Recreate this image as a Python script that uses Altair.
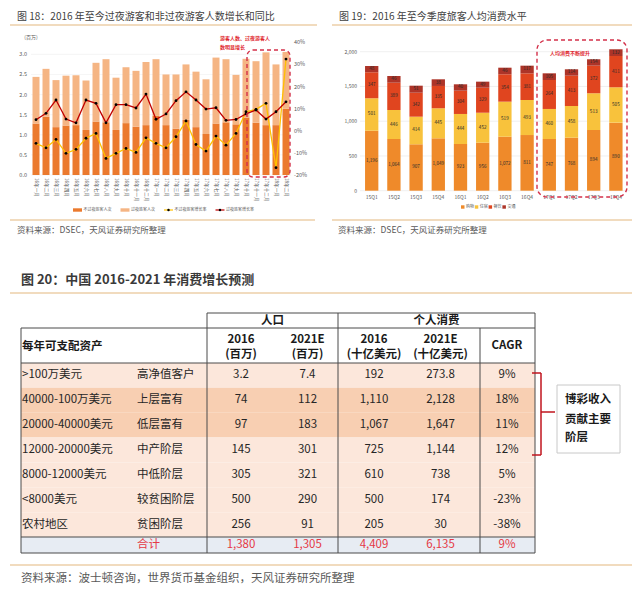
import altair as alt
import pandas as pd

FONT = "Noto Sans CJK SC"
GREY = "#595959"
DARKTXT = "#262626"
TAN = "#EDCFA8"
RED_NOTE = "#E0262E"
RED_BOX = "#D33049"

# ---------------- Figure 18 data ----------------
title18 = "图 18：2016 年至今过夜游客和非过夜游客人数增长和同比"
source18 = "资料来源：DSEC，天风证券研究所整理"
note18 = ["游客人数、过夜游客人", "数明显增长"]
unit18 = "(百万)"
months = ["16年一月", "16年二月", "16年三月", "16年四月", "16年五月", "16年六月",
          "16年七月", "16年八月", "16年九月", "16年十月", "16年十一月", "16年十二月",
          "17年一月", "17年二月", "17年三月", "17年四月", "17年五月", "17年六月",
          "17年七月", "17年八月", "17年九月", "17年十月", "17年十一月", "17年十二月",
          "18年一月", "18年二月"]
nonovernight_visitors = [1.28, 1.45, 1.19, 1.23, 1.24, 1.12, 1.33, 1.31, 1.12, 1.29, 1.20, 1.24,
                         1.47, 1.24, 1.15, 1.37, 1.19, 1.02, 1.28, 1.31, 1.26, 1.43, 1.30, 1.24,
                         1.24, 1.65]
overnight_visitors = [1.16, 1.19, 1.17, 1.24, 1.24, 1.23, 1.46, 1.57, 1.30, 1.39, 1.39, 1.57,
                      1.41, 1.26, 1.35, 1.38, 1.38, 1.36, 1.64, 1.57, 1.23, 1.46, 1.53, 1.81,
                      1.51, 1.41]
nonovernight_growth = [-5.7, -7.7, -3.9, -10.2, -8.4, -3.4, -1.2, -12.5, -10.2, -8.0, -9.8, -3.2,
                       -5.7, -7.7, -2.7, 4.4, -6.2, -9.2, -2.4, -6.5, -1.2, 8.6, 9.7, 12.4,
                       -16.7, 32.4]
overnight_growth = [5.0, 7.9, 13.9, 5.3, 3.6, 13.9, 12.4, 3.6, 11.8, 11.8, 10.3, 16.6,
                    5.2, 7.6, 13.6, 17.6, 13.9, 9.8, 10.4, 4.7, 5.1, 7.6, 9.4, 5.3,
                    8.6, 13.1]
series18 = ["不过夜旅客人次", "过夜旅客人次", "不过夜旅客增长率", "过夜旅客增长率"]
colors18 = ["#EB7A2E", "#F5B584", "#FFC000", "#C00000"]
left_ticks18 = [0.0, 0.5, 1.0, 1.5, 2.0, 2.5, 3.0]
right_ticks18 = [-20, -10, 0, 10, 20, 30, 40]

# ---------------- Figure 19 data ----------------
title19 = "图 19：2016 年至今季度旅客人均消费水平"
source19 = "资料来源：DSEC，天风证券研究所整理"
note19 = "人均消费不断提升"
quarters = ["15Q1", "15Q2", "15Q3", "15Q4", "16Q1", "16Q2", "16Q3", "16Q4",
            "17Q1", "17Q2", "17Q3", "17Q4"]
series19 = ["购物", "住宿", "餐饮", "交通"]
colors19 = ["#EF8A2A", "#F8C23C", "#E0451F", "#AD3428"]
shopping = [863, 744, 668, 754, 672, 691, 777, 801, 744, 763, 873, 979]
lodging = [467, 417, 397, 432, 432, 431, 504, 504, 432, 456, 529, 509]
dining = [374, 393, 345, 321, 335, 360, 394, 384, 417, 436, 397, 450]
transport = [90, 96, 101, 96, 92, 87, 95, 110, 96, 92, 92, 97]
shopping_labels = ["1,196", "1,064", "907", "1,049", "923", "956", "1,072", "811", "747", "768", "894", "890"]
lodging_labels = ["501", "446", "414", "445", "444", "452", "519", "493", "460", "458", "513", "505"]
dining_labels = ["347", "389", "342", "335", "304", "329", "354", "381", "264", "413", "372", "411"]
transport_labels = ["48", "46", "51", "38", "40", "49", "46", "117", "105", "114", "154", "132"]
ticks19 = [0, 500, 1000, 1500, 2000]

# ---------------- Figure 20 (table) data ----------------
title20 = "图 20：中国 2016-2021 年消费增长预测"
source20 = "资料来源：波士顿咨询，世界货币基金组织，天风证券研究所整理"
row_header = "每年可支配资产"
group_headers = ["人口", "个人消费"]
col_keys = ["pop2016", "pop2021", "spend2016", "spend2021", "cagr"]
col_head1 = ["2016", "2021E", "2016", "2021E"]
col_head2 = ["(百万)", "(百万)", "(十亿美元)", "(十亿美元)"]
cagr_head = "CAGR"
income_bands = [">100万美元", "40000-100万美元", "20000-40000美元", "12000-20000美元",
                "8000-12000美元", "<8000美元", "农村地区"]
classes = ["高净值客户", "上层富有", "低层富有", "中产阶层", "中低阶层", "较贫困阶层", "贫困阶层"]
pop_2016 = [3.2, 74, 97, 145, 305, 500, 256]
pop_2021 = [7.4, 112, 183, 301, 321, 290, 91]
spend_2016 = [192, 1110, 1067, 725, 610, 500, 205]
spend_2021 = [273.8, 2128, 1647, 1144, 738, 174, 30]
cagr = [9, 18, 11, 12, 5, -23, -38]
total_label = "合计"
total_values = [1380, 1305, 4409, 6135]
total_cagr = 9
highlight_bands = ["40000-100万美元", "20000-40000美元"]
callout = ["博彩收入", "贡献主要", "阶层"]


def fmt(v):
    if isinstance(v, float) and not float(v).is_integer():
        return f"{v:,.1f}"
    return f"{int(v):,}"


one = pd.DataFrame({"k": [0]})


def T(text, x, y, size, color=GREY, align="left", weight="normal"):
    return alt.Chart(one).mark_text(text=text, font=FONT, fontSize=size, color=color,
                                    align=align, baseline="middle", fontWeight=weight).encode(
        x=alt.value(x), y=alt.value(y))


def HR(x1, x2, y, color, w=1.0):
    return alt.Chart(one).mark_rule(color=color, strokeWidth=w).encode(
        x=alt.value(x1), x2=alt.value(x2), y=alt.value(y))


def VR(x, y1, y2, color, w=1.0):
    return alt.Chart(one).mark_rule(color=color, strokeWidth=w).encode(
        x=alt.value(x), y=alt.value(y1), y2=alt.value(y2))


def BOX(x1, x2, y1, y2, fill, stroke=None, w=1.0, dash=None, radius=0, fill_opacity=1.0):
    kw = dict(fill=fill, fillOpacity=fill_opacity, cornerRadius=radius)
    if stroke:
        kw.update(stroke=stroke, strokeWidth=w)
    if dash:
        kw.update(strokeDash=dash)
    return alt.Chart(one).mark_rect(**kw).encode(
        x=alt.value(x1), x2=alt.value(x2), y=alt.value(y1), y2=alt.value(y2))


def DOT(x, y, size=7, color="black"):
    return alt.Chart(one).mark_circle(size=size, color=color, opacity=1).encode(
        x=alt.value(x), y=alt.value(y))


deco = []

# ================= Figure 18 =================
df18 = pd.DataFrame({"month": months, "nonov": nonovernight_visitors, "ov": overnight_visitors,
                     "g_non": nonovernight_growth, "g_ov": overnight_growth})
df18["total"] = df18["nonov"] + df18["ov"]
dfl18 = pd.DataFrame({"t": left_ticks18, "lbl": [f"{t:.1f}" for t in left_ticks18]})
dfr18 = pd.DataFrame({"t": right_ticks18, "lbl": [f"{t}%" for t in right_ticks18]})

x18 = alt.X("month:N", sort=months, axis=None,
            scale=alt.Scale(domain=months, range=[23, 283], paddingInner=0.3, paddingOuter=0.15))
yL = alt.Scale(domain=[0, 3.3], range=[167, 34.3], nice=False, zero=False)
yR = alt.Scale(domain=[-20, 40], range=[167, 34.3], nice=False, zero=False)

grid18 = alt.Chart(dfl18).mark_rule(color="#EEEEEE", strokeWidth=0.6).encode(
    y=alt.Y("t:Q", scale=yL, axis=None), x=alt.value(23), x2=alt.value(283))
bar_non = alt.Chart(df18).mark_bar(color=colors18[0]).encode(
    x=x18, y=alt.Y("nonov:Q", scale=yL, axis=None, stack=None))
bar_ov = alt.Chart(df18).mark_bar(color=colors18[1]).encode(
    x=x18, y=alt.Y("total:Q", scale=yL, axis=None, stack=None), y2="nonov:Q")
lab_l18 = alt.Chart(dfl18).mark_text(font=FONT, fontSize=5.5, color=GREY, align="right",
                                     baseline="middle").encode(
    y=alt.Y("t:Q", scale=yL, axis=None), x=alt.value(19), text="lbl:N")
lab_x18 = alt.Chart(df18).mark_text(font=FONT, fontSize=4.6, color=GREY, align="left",
                                    baseline="middle", angle=90).encode(
    x=x18, y=alt.value(170), text="month:N")
left18 = alt.layer(grid18, bar_non, bar_ov, lab_l18, lab_x18)

line_non = alt.Chart(df18).mark_line(color=colors18[2], strokeWidth=1.3).encode(
    x=x18, y=alt.Y("g_non:Q", scale=yR, axis=None))
pts_non = alt.Chart(df18).mark_circle(color="black", size=8, opacity=1).encode(
    x=x18, y=alt.Y("g_non:Q", scale=yR, axis=None))
line_ov = alt.Chart(df18).mark_line(color=colors18[3], strokeWidth=1.3).encode(
    x=x18, y=alt.Y("g_ov:Q", scale=yR, axis=None))
pts_ov = alt.Chart(df18).mark_circle(color="black", size=8, opacity=1).encode(
    x=x18, y=alt.Y("g_ov:Q", scale=yR, axis=None))
lab_r18 = alt.Chart(dfr18).mark_text(font=FONT, fontSize=5.5, color=GREY, align="left",
                                     baseline="middle").encode(
    y=alt.Y("t:Q", scale=yR, axis=None), x=alt.value(286), text="lbl:N")
right18 = alt.layer(line_non, line_ov, pts_non, pts_ov, lab_r18)

c18 = alt.layer(left18, right18).resolve_scale(y="independent")

deco += [
    T(title18, 9, 9, 10, color="#3F3F3F"),
    HR(2, 309, 17, TAN, 1.5),
    T(unit18, 23, 29, 5, align="center"),
    BOX(239, 282, 42, 169, fill="white", stroke=RED_BOX, w=1.4, dash=[4, 3], radius=6, fill_opacity=0),
    T(note18[0], 212, 30, 5, color=RED_NOTE, weight="bold"),
    T(note18[1], 212, 39, 5, color=RED_NOTE, weight="bold"),
    HR(2, 307, 212, TAN, 1.5),
    T(source18, 9, 222, 8.5),
]
# legend 18
lx = 65
for name, col, kind in zip(series18, colors18, ["bar", "bar", "line", "line"]):
    if kind == "bar":
        deco.append(BOX(lx, lx + 9, 200.3, 203.7, fill=col))
    else:
        deco.append(HR(lx, lx + 9, 202, col, 1.2))
        deco.append(DOT(lx + 4.5, 202, 6))
    deco.append(T(name, lx + 10.5, 202, 4.0))
    lx = lx + 10.5 + len(name) * 4.0 + 9

# ================= Figure 19 =================
rows19 = []
vals19 = [shopping, lodging, dining, transport]
lbls19 = [shopping_labels, lodging_labels, dining_labels, transport_labels]
for i, q in enumerate(quarters):
    base = 0
    for s, vals, lbls in zip(series19, vals19, lbls19):
        rows19.append({"q": q, "s": s, "y0": base, "y1": base + vals[i],
                       "mid": base + vals[i] / 2, "lbl": lbls[i]})
        base += vals[i]
df19 = pd.DataFrame(rows19)
dft19 = pd.DataFrame({"t": ticks19, "lbl": [f"{t:,}" for t in ticks19]})
dfq19 = pd.DataFrame({"q": quarters})

x19 = alt.X("q:N", sort=quarters, axis=None,
            scale=alt.Scale(domain=quarters, range=[352.6, 619], paddingInner=0.4, paddingOuter=0.2))
y19 = alt.Scale(domain=[0, 2000], range=[182.7, 43.7], nice=False, zero=False)

grid19 = alt.Chart(dft19).mark_rule(color="#E6E6E6", strokeWidth=0.6).encode(
    y=alt.Y("t:Q", scale=y19, axis=None), x=alt.value(352), x2=alt.value(622))
bars19 = alt.Chart(df19).mark_bar().encode(
    x=x19, y=alt.Y("y0:Q", scale=y19, axis=None, stack=None), y2="y1:Q",
    color=alt.Color("s:N", scale=alt.Scale(domain=series19, range=colors19), legend=None))
text19 = alt.Chart(df19).mark_text(font=FONT, fontSize=4.6, color="#2A2A2A",
                                   baseline="middle").encode(
    x=x19, y=alt.Y("mid:Q", scale=y19, axis=None), text="lbl:N")
ylab19 = alt.Chart(dft19).mark_text(font=FONT, fontSize=5, color=GREY, align="right",
                                    baseline="middle").encode(
    y=alt.Y("t:Q", scale=y19, axis=None), x=alt.value(349), text="lbl:N")
xlab19 = alt.Chart(dfq19).mark_text(font=FONT, fontSize=5, color=GREY,
                                    baseline="middle").encode(
    x=x19, y=alt.value(189), text="q:N")
c19 = alt.layer(grid19, bars19, text19, ylab19, xlab19)

deco += [
    T(title19, 331, 9, 10, color="#3F3F3F"),
    HR(324, 624, 17, TAN, 1.5),
    BOX(529, 619, 32, 189, fill="white", stroke=RED_BOX, w=1.4, dash=[4, 3], radius=10, fill_opacity=0),
    T(note19, 562, 45, 5, color=RED_NOTE, align="center", weight="bold"),
    HR(324, 624, 212, TAN, 1.5),
    T(source19, 330, 222, 8.5),
]
lx = 453
for name, col in zip(series19, colors19):
    deco.append(BOX(lx, lx + 3.5, 197.3, 200.7, fill=col))
    deco.append(T(name, lx + 5, 199, 4.0))
    lx += 13.8

# ================= Figure 20 (table) =================
dfT = pd.DataFrame({"band": income_bands, "cls": classes})
cells = []
for i, b in enumerate(income_bands):
    vals = [fmt(pop_2016[i]), fmt(pop_2021[i]), fmt(spend_2016[i]), fmt(spend_2021[i]), f"{cagr[i]}%"]
    for k, v in zip(col_keys, vals):
        cells.append({"band": b, "col": k, "txt": v})
dfCells = pd.DataFrame(cells)
dfTot = pd.DataFrame({"col": col_keys, "txt": [fmt(v) for v in total_values] + [f"{total_cagr}%"]})
dfH = pd.DataFrame({"col": col_keys[:4], "h1": col_head1, "h2": col_head2})
dfC = pd.DataFrame({"col": [col_keys[4]], "h": [cagr_head]})

yT = alt.Y("band:N", sort=income_bands, axis=None,
           scale=alt.Scale(domain=income_bands, range=[355, 529], paddingInner=0, paddingOuter=0))
xT = alt.X("col:N", sort=col_keys, axis=None,
           scale=alt.Scale(domain=col_keys, range=[233, 499], padding=0))
TS = 11.5
TOTAL_RED = "#E53945"

bgT = alt.Chart(dfT).mark_rect().encode(
    y=yT, x=alt.value(13), x2=alt.value(527),
    color=alt.condition(alt.FieldOneOfPredicate(field="band", oneOf=highlight_bands),
                        alt.value("#F8CFB2"), alt.value("#FCE7DB")))
totBg = BOX(13, 527, 529, 545, fill="#E7ECF3")
c1T = alt.Chart(dfT).mark_text(font=FONT, fontSize=TS, color=DARKTXT, align="left",
                               baseline="middle").encode(y=yT, x=alt.value(14), text="band:N")
c2T = alt.Chart(dfT).mark_text(font=FONT, fontSize=TS, color=DARKTXT, align="left",
                               baseline="middle").encode(y=yT, x=alt.value(129), text="cls:N")
numT = alt.Chart(dfCells).mark_text(font=FONT, fontSize=TS, color=DARKTXT,
                                    baseline="middle").encode(y=yT, x=xT, text="txt:N")
h1T = alt.Chart(dfH).mark_text(font=FONT, fontSize=TS, color="#1A1A1A", fontWeight="bold",
                               baseline="middle").encode(x=xT, y=alt.value(332), text="h1:N")
h2T = alt.Chart(dfH).mark_text(font=FONT, fontSize=TS, color="#1A1A1A", fontWeight="bold",
                               baseline="middle").encode(x=xT, y=alt.value(347), text="h2:N")
hcT = alt.Chart(dfC).mark_text(font=FONT, fontSize=TS, color="#1A1A1A", fontWeight="bold",
                               baseline="middle").encode(x=xT, y=alt.value(338), text="h:N")
totT = alt.Chart(dfTot).mark_text(font=FONT, fontSize=TS, color=TOTAL_RED,
                                  baseline="middle").encode(x=xT, y=alt.value(537), text="txt:N")
tableT = alt.layer(bgT, totBg, c1T, c2T, numT, h1T, h2T, hcT, totT)

LINE = "#4A4A4A"
deco += [
    T(title20, 13, 272, 13, color="#3A3A3A", weight="bold"),
    HR(2, 624, 285, TAN, 1.5),
    T(total_label, 129, 537, TS, color=TOTAL_RED),
    T(group_headers[0], 264.5, 313, TS, color="#1A1A1A", align="center", weight="bold"),
    T(group_headers[1], 428.5, 313, TS, color="#1A1A1A", align="center", weight="bold"),
    T(row_header, 14, 339, TS, color="#1A1A1A", weight="bold"),
    HR(199, 527, 305, LINE), HR(13, 527, 320, LINE), HR(13, 527, 355, LINE),
    HR(13, 527, 529, LINE), HR(13, 527, 545, LINE),
    VR(13, 320, 545, LINE), VR(199, 305, 545, LINE), VR(330, 305, 545, LINE),
    VR(472, 320, 545, LINE), VR(527, 305, 545, LINE),
    # bracket
    VR(533, 365, 447, "#C0141E", 1.5), HR(524, 533, 365, "#C0141E", 1.5),
    HR(524, 533, 447, "#C0141E", 1.5), HR(533, 547, 404, "#C0141E", 1.5),
    BOX(549, 612, 377, 445, fill="white", stroke="#C8C8C8", w=1),
    T(callout[0], 557, 392, TS, color="#1A1A1A", weight="bold"),
    T(callout[1], 557, 412, TS, color="#1A1A1A", weight="bold"),
    T(callout[2], 557, 430, TS, color="#1A1A1A", weight="bold"),
    HR(2, 624, 557, TAN, 1.5),
    T(source20, 13, 571, TS, color=GREY),
]

chart = alt.layer(c18, c19, tableT, *deco).resolve_scale(
    x="independent", y="independent", color="independent"
).properties(
    width=624, height=580, padding=0, background="white",
    autosize=alt.AutoSizeParams(type="none")
).configure_view(stroke=None)

chart.save("out.html", embed_options={"renderer": "svg", "actions": False})
